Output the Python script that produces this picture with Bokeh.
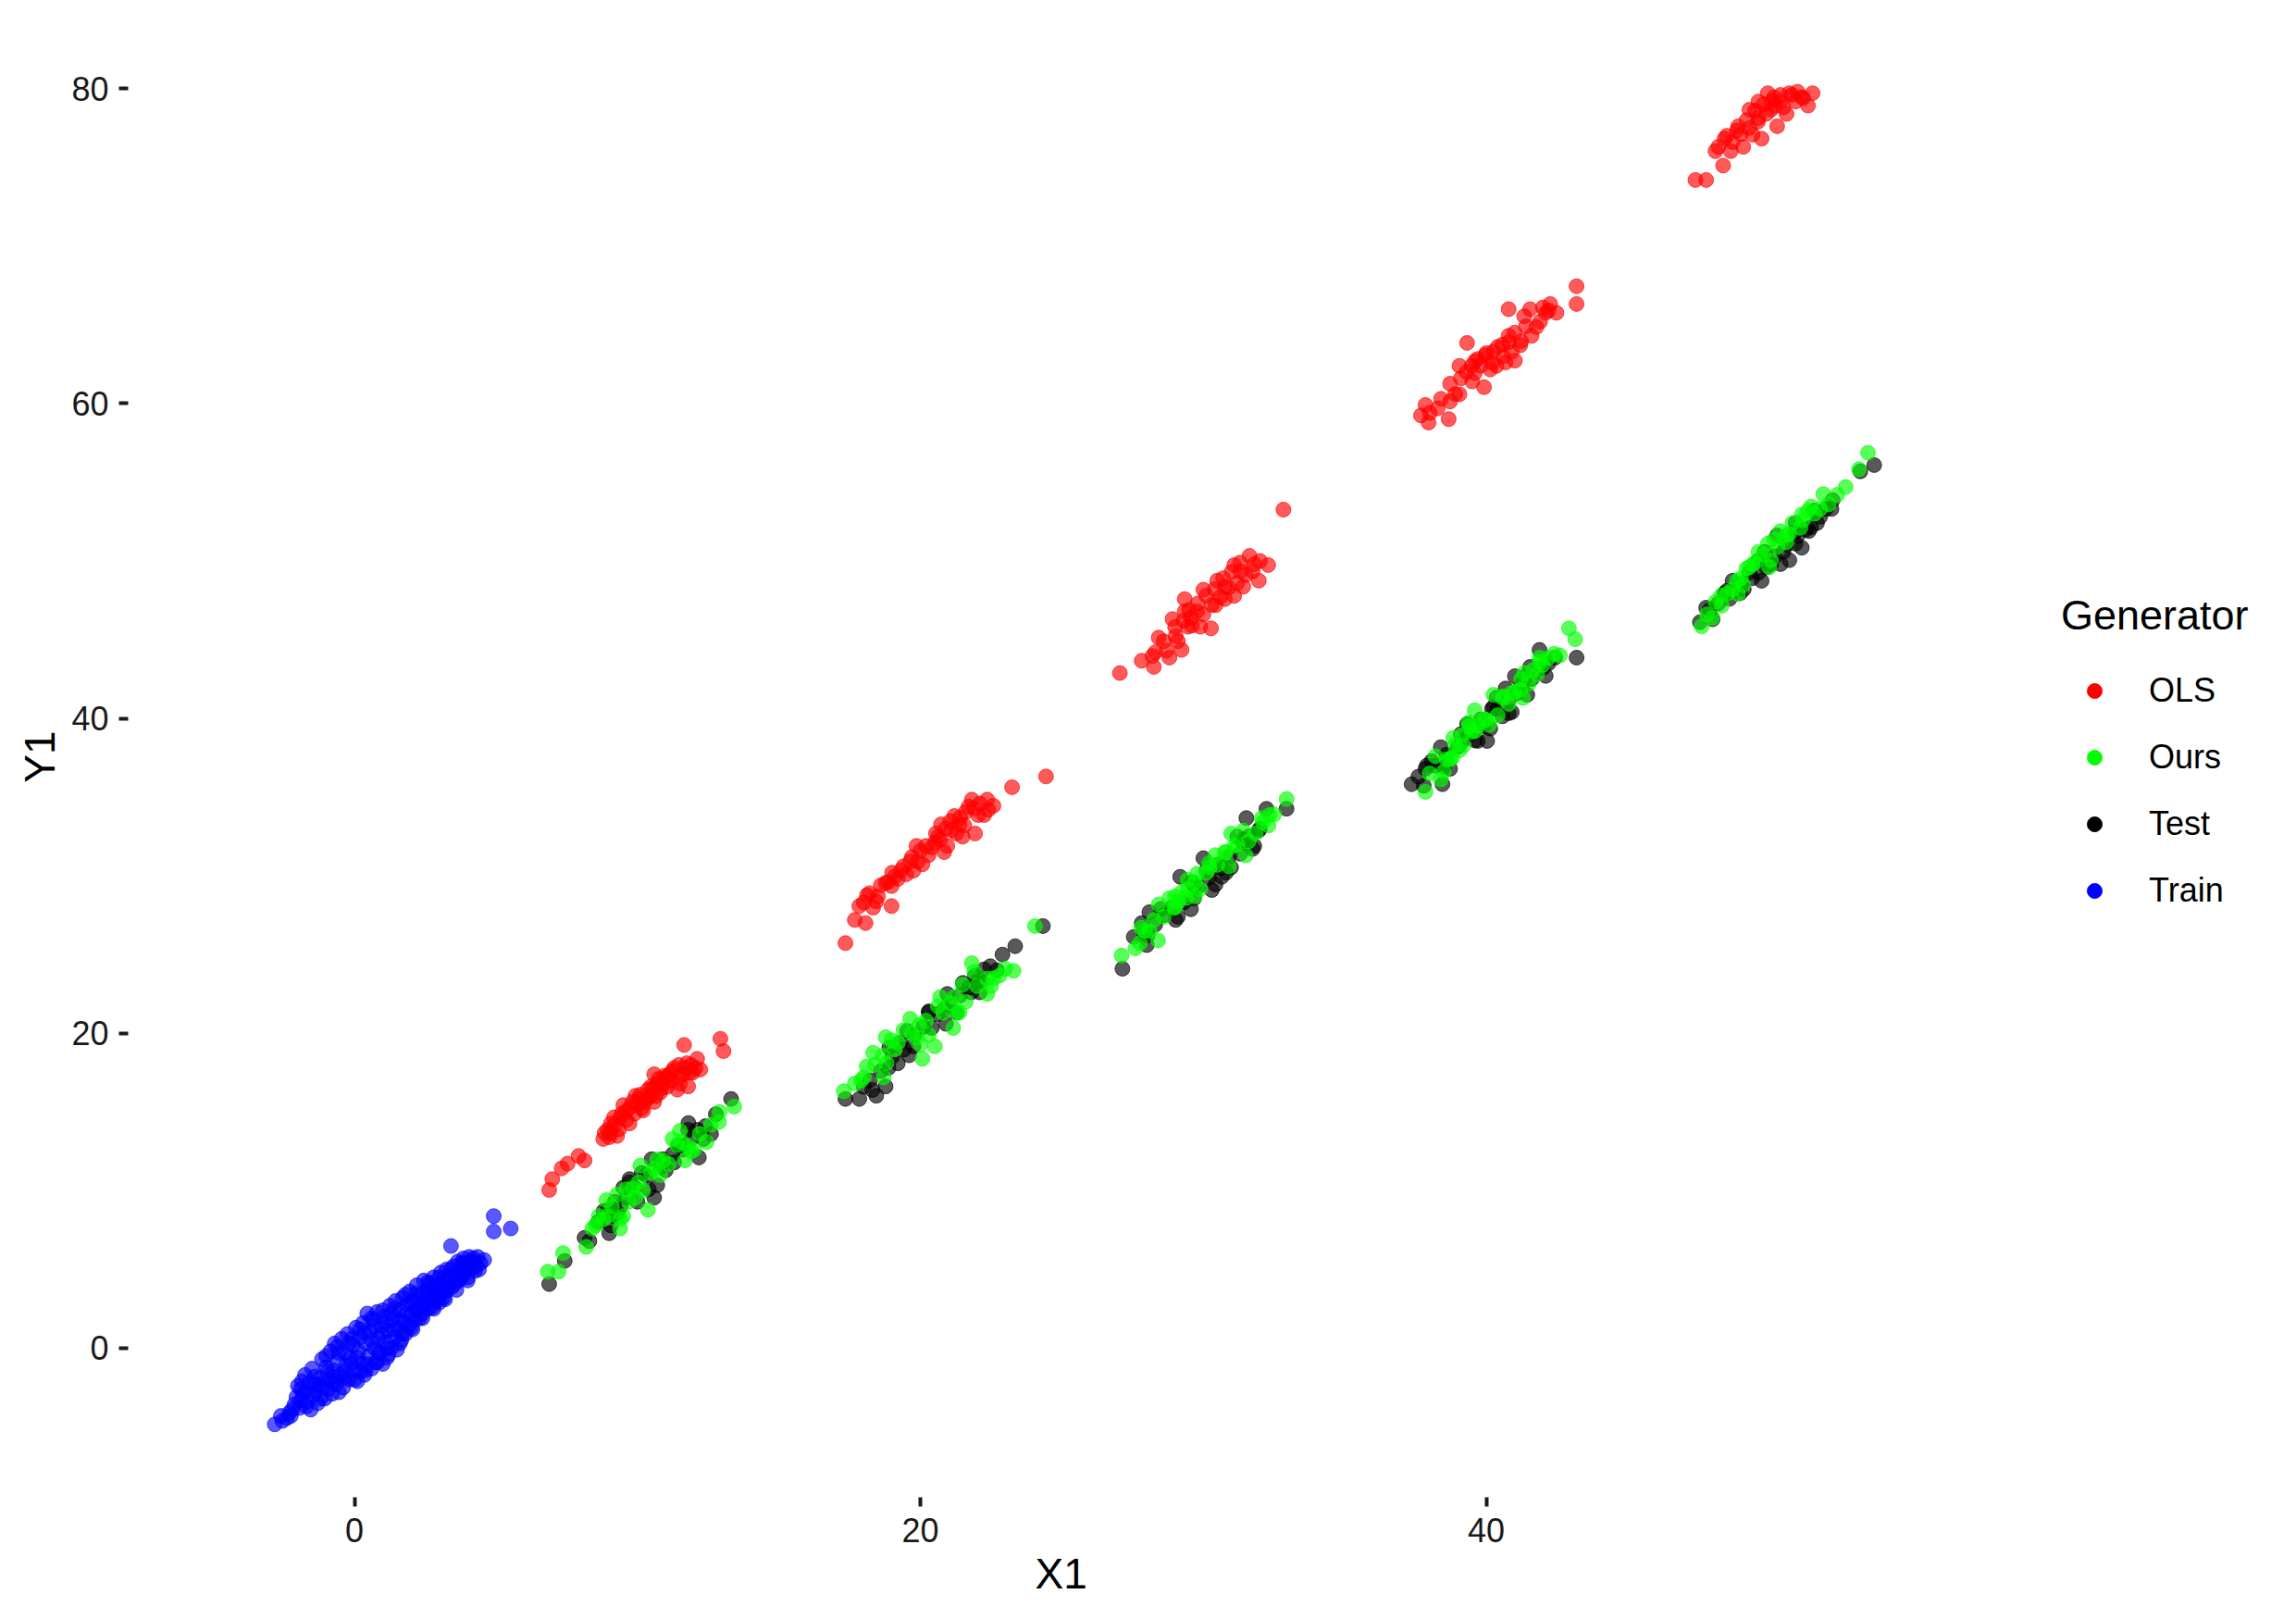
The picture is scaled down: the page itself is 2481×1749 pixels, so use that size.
from bokeh.plotting import figure
from bokeh.models import Legend, LegendItem, Range1d, Title
from bokeh.embed import file_html
from bokeh.resources import INLINE

# ---------------- data ----------------
generators = ["OLS", "Ours", "Test", "Train"]
x_ticks = [0, 20, 40]
y_ticks = [0, 20, 40, 60, 80]

train_x = [-2.82, -2.55, -2.39, -2.2, -2.12, -2.05, -2.0, -1.95, -1.8, -1.75, -1.7, -1.6, -1.55, -1.5,
           -1.35, -1.3, -1.2, -1.15, -1.1, -1.05, -1.0, -0.9, -0.85, -0.8, -0.75, -0.7, -0.65, -0.6,
           -0.5, -0.45, -0.4, -0.35, -0.3, -0.25, -0.2, -0.15, -0.05, 0.0, 0.05, 0.1, 0.15, 0.2, 0.25, 0.3,
           0.35, 0.4, 0.45, 0.5, 0.55, 0.6, 0.65, 0.7, 0.75, 0.8, 0.85, 0.9, 0.95, 1.0, 1.05, 1.1,
           1.15, 1.2, 1.25, 1.3, 1.35, 1.4, 1.45, 1.5, 1.55, 1.6, 1.65, 1.7, 1.75, 1.8, 1.85, 1.9,
           1.95, 2.0, 2.05, 2.1, 2.15, 2.2, 2.25, 2.3, 2.35, 2.4, 2.45, 2.5, 2.55, 2.6, 2.65, 2.7,
           2.75, 2.8, 2.85, 2.9, 2.95, 3.0, 3.05, 3.1, 3.15, 3.2, 3.25, 3.3, 3.35, 3.41, 3.45, 3.5,
           3.55, 3.6, 3.65, 3.7, 3.75, 3.8, 3.85, 3.9, 3.95, 4.0, 4.05, 4.1, 4.2, 4.26, 4.35, 4.45, 4.58,
           4.92, 4.92, 5.52,
           -2.3, -1.9, -1.85, -1.65, -1.45, -1.4, -1.25, -0.95, -0.95, -0.7, -0.55, -0.55, -0.35, -0.1,
           -0.1, 0.1, 0.2, 0.35, 0.45, 0.6, 0.7, 0.85, 0.95, 1.1, 1.15, 1.3, 1.4, 1.6, 1.7, 1.85,
           2.0, 2.15, 2.3, 2.45, 2.6, 2.75, 2.9, 3.05, 3.2, 3.4, 3.55, 3.75, 3.9, 4.1, 4.3,
           -2.6, -2.25, -1.9, -1.7, -1.4, -1.2, -1.0, -0.8, -0.6, -0.4, -0.2, 0.0, 0.2, 0.4, 0.6, 0.8,
           1.0, 1.2, 1.4, 1.6, 1.8, 2.0, 2.2, 2.4, 2.6, 2.8, 3.0, 3.2, 3.4, 3.6, 3.8, 4.0, 4.2, 4.4]
train_y = [-4.84, -4.62, -4.45, -3.9, -3.57, -3.1, -2.4, -3.8, -2.9, -1.7, -3.4, -2.2, -3.9, -1.3,
           -2.7, -3.5, -1.9, -0.7, -2.5, -3.2, -1.2, -2.0, -0.2, -2.9, -1.4, 0.3, -2.3, -0.8,
           -1.7, 0.6, -2.5, -0.3, -1.1, 0.9, -2.0, -0.6, 0.2, -1.4, 1.3, -2.1, -0.2, 0.7, -1.0, 1.6,
           -1.7, 0.3, 2.2, -0.5, 1.0, -1.3, 1.8, 0.0, -0.9, 2.3, 0.6, -0.3, 1.4, -1.0, 2.0, 0.4,
           -0.6, 1.1, 2.7, 0.0, 1.8, 0.7, 3.0, -0.1, 1.3, 2.4, 0.5, 3.2, 1.7, 0.9, 2.8, 1.4,
           3.6, 2.1, 1.2, 3.0, 1.8, 4.0, 2.5, 1.9, 3.4, 2.2, 4.3, 2.8, 3.7, 2.5, 4.1, 3.2,
           2.6, 4.5, 3.5, 3.0, 4.0, 2.9, 4.8, 3.6, 3.2, 4.3, 5.0, 3.7, 4.6, 6.49, 3.9, 5.2,
           4.1, 4.8, 5.5, 4.3, 5.0, 4.6, 5.7, 4.9, 5.3, 4.5, 5.8, 5.0, 5.5, 4.9, 5.8, 5.4, 5.6,
           8.39, 7.41, 7.60,
           -4.1, -3.3, -2.1, -2.7, -3.0, -1.8, -2.3, -1.5, -2.6, -1.8, -2.8, -0.3, -1.5, -1.0,
           0.6, -0.6, -1.5, 1.0, -1.0, 0.5, 1.4, -0.3, 0.9, 1.6, 0.0, 2.2, 1.2, 1.8, 0.9, 2.2,
           2.9, 2.4, 3.1, 2.6, 3.4, 3.9, 3.4, 4.1, 3.6, 4.2, 4.7, 4.4, 5.4, 5.5, 5.2,
           -4.3, -4.3, -2.6, -3.7, -2.3, -3.2, -0.5, -2.2, 0.1, -1.9, 0.3, -2.0, 1.2, -1.4, 1.9, -0.9,
           2.4, -0.4, 2.5, 0.3, 3.4, 1.3, 3.5, 1.9, 4.2, 2.5, 4.5, 3.1, 5.0, 3.7, 5.4, 4.3, 5.7, 5.0]

test_x = [6.88, 7.43, 8.13, 9.06, 8.95, 9.28, 9.72, 10.15, 10.70, 10.81, 10.59, 11.24, 11.46, 11.79,
          12.11, 12.33, 12.17, 12.77, 13.31, 9.06, 9.61, 9.72,
          8.6, 8.8, 9.2, 9.4, 9.9, 10.3, 10.4, 10.9, 11.0, 11.6, 11.9, 12.4,
          9.0, 9.5, 10.0, 10.5, 11.3, 11.8, 12.6, 8.3,
          17.35, 17.84, 18.44, 18.77, 18.22, 19.20, 19.53, 19.75, 20.29, 20.40, 20.95, 21.27, 21.71,
          21.93, 22.25, 22.47, 22.15, 23.35, 24.33, 19.42, 20.84, 18.87,
          18.0, 18.6, 19.0, 19.3, 19.8, 20.1, 20.6, 21.0, 21.4, 21.8, 22.0, 22.7,
          18.3, 18.9, 19.6, 20.3, 20.9, 21.5, 22.1, 22.9,
          27.14, 27.54, 27.82, 28.09, 28.03, 29.02, 29.18, 29.56, 29.67, 30.00, 30.11, 30.43, 30.65,
          30.98, 31.41, 31.52, 31.74, 31.96, 32.23, 32.94, 30.54, 29.67, 31.20,
          27.9, 28.3, 28.6, 28.9, 29.3, 29.8, 30.2, 30.6, 30.9, 31.3, 31.6, 32.0,
          28.0, 28.5, 29.1, 29.6, 30.3, 30.8, 31.4, 31.8,
          37.36, 37.79, 37.85, 38.07, 38.39, 38.72, 39.16, 39.32, 39.70, 39.81, 40.03, 40.25, 40.36,
          40.68, 40.79, 41.01, 41.45, 41.55, 41.88, 42.43, 43.19, 40.14, 40.57, 41.23, 38.45,
          37.6, 38.2, 38.6, 39.0, 39.4, 39.9, 40.4, 40.8, 41.1, 41.6, 42.0, 42.2,
          37.9, 38.5, 39.1, 39.6, 40.2, 40.9, 41.4, 42.1,
          47.55, 47.77, 48.42, 48.70, 48.97, 49.30, 49.73, 49.84, 50.06, 50.28, 50.50, 50.71, 50.93,
          51.15, 51.48, 51.59, 51.69, 52.24, 53.22, 53.71, 49.62, 50.93,
          47.9, 48.2, 48.6, 49.0, 49.4, 49.9, 50.2, 50.6, 51.0, 51.3, 51.8, 52.0,
          48.0, 48.5, 49.1, 49.6, 50.4, 50.9, 51.4, 52.2]
test_y = [4.07, 5.54, 7.01, 7.80, 8.78, 8.58, 10.74, 11.13, 10.35, 11.52, 9.56, 12.31, 12.89, 13.87,
          13.87, 13.29, 12.11, 14.86, 15.83, 8.39, 9.56, 10.54,
          8.0, 8.7, 9.3, 9.0, 10.2, 11.0, 10.1, 12.0, 11.3, 12.6, 13.3, 14.1,
          7.3, 10.2, 9.3, 12.0, 11.8, 14.3, 13.6, 6.8,
          15.83, 15.83, 16.03, 16.62, 17.01, 18.09, 20.15, 19.17, 21.32, 20.34, 22.50, 21.32, 22.89,
          23.67, 24.06, 24.26, 23.28, 25.53, 26.81, 18.97, 21.52, 17.80,
          16.6, 17.6, 18.5, 19.4, 19.9, 20.4, 21.2, 21.8, 22.4, 22.6, 23.3, 24.0,
          16.4, 19.1, 18.6, 21.4, 20.6, 23.2, 22.6, 25.0,
          24.10, 26.12, 27.00, 27.69, 26.22, 27.20, 29.94, 27.88, 29.35, 31.12, 30.34, 29.45, 29.94,
          30.53, 32.10, 33.67, 31.71, 32.88, 34.26, 34.26, 30.73, 28.57, 32.49,
          26.4, 26.9, 27.5, 28.0, 28.3, 29.3, 29.9, 30.5, 31.2, 31.4, 32.5, 33.0,
          25.6, 27.9, 27.4, 29.6, 29.1, 30.2, 32.3, 31.9,
          35.82, 35.72, 36.80, 37.29, 38.17, 36.80, 38.57, 39.64, 38.57, 39.94, 38.57, 40.72, 41.31,
          41.90, 40.33, 42.68, 41.50, 43.27, 44.35, 43.86, 43.86, 39.35, 40.13, 42.09, 35.82,
          36.3, 37.0, 37.7, 38.2, 39.0, 39.5, 40.6, 41.2, 41.6, 42.5, 43.2, 43.5,
          37.0, 36.9, 39.0, 38.6, 40.6, 40.4, 42.7, 42.7,
          46.11, 47.03, 47.95, 48.74, 47.95, 49.26, 48.74, 50.58, 49.79, 51.62, 50.58, 50.05, 51.10,
          50.84, 52.15, 53.20, 52.41, 53.86, 55.69, 56.09, 49.26, 52.41,
          46.9, 47.3, 47.6, 48.5, 48.9, 49.6, 50.3, 51.0, 51.6, 52.0, 52.8, 53.3,
          46.3, 48.1, 48.2, 50.0, 49.8, 51.8, 51.9, 53.3]

ours_x = [6.83, 7.21, 7.37, 8.19, 8.52, 8.95, 9.50, 9.28, 9.82, 10.37, 10.04, 10.48, 10.91, 11.24,
          11.57, 11.68, 11.90, 12.44, 12.88, 13.42, 9.93, 9.39, 8.63,
          8.4, 8.8, 9.1, 9.6, 9.7, 10.2, 10.6, 10.7, 11.1, 11.4, 11.8, 12.2, 12.6,
          8.9, 9.4, 10.1, 10.8, 11.5, 12.0, 12.9,
          17.29, 17.68, 18.00, 18.33, 18.66, 18.98, 19.09, 19.64, 19.86, 20.07, 19.96, 20.62, 21.06,
          21.38, 21.49, 21.82, 22.36, 22.36, 22.80, 23.29, 24.05, 18.77, 20.51, 21.16,
          17.9, 18.4, 18.8, 19.2, 19.7, 20.2, 20.3, 20.8, 21.2, 21.6, 22.0, 22.6, 23.0,
          18.1, 18.7, 19.4, 20.0, 20.7, 21.3, 21.9, 22.5,
          27.11, 27.76, 27.93, 28.42, 28.25, 28.80, 28.96, 29.23, 29.45, 29.89, 29.78, 30.22, 30.43,
          30.76, 31.09, 30.98, 31.41, 31.85, 32.07, 32.34, 32.94, 29.12, 29.45,
          27.6, 28.1, 28.6, 29.0, 29.4, 29.7, 30.1, 30.5, 30.8, 31.2, 31.6, 32.1, 32.5,
          27.8, 28.4, 29.0, 29.7, 30.2, 30.9, 31.5, 32.3,
          37.85, 38.39, 38.50, 38.83, 39.05, 39.16, 39.48, 39.70, 39.59, 39.92, 40.25, 40.57, 40.79,
          41.01, 41.23, 41.34, 41.66, 41.88, 42.21, 42.92, 43.14, 38.72, 39.38,
          38.0, 38.6, 39.2, 39.6, 40.0, 40.4, 40.9, 41.2, 41.5, 41.8, 42.0, 42.4, 38.9,
          38.2, 38.8, 39.4, 40.1, 40.6, 41.3, 41.9, 42.6,
          47.61, 47.99, 48.32, 48.53, 48.86, 49.19, 49.41, 49.62, 49.95, 50.17, 50.39, 50.61, 50.82,
          51.15, 51.37, 51.48, 51.91, 53.17, 53.49, 49.08, 50.06,
          47.8, 48.1, 48.7, 49.0, 49.3, 49.8, 50.3, 50.7, 51.1, 51.6, 52.1, 52.4,
          48.3, 48.9, 49.5, 50.0, 50.6, 51.2, 51.8, 52.7]
ours_y = [4.86, 4.86, 6.04, 6.43, 7.80, 8.39, 8.39, 9.76, 10.15, 8.78, 10.54, 11.13, 11.92, 13.29,
          13.09, 11.92, 12.50, 13.09, 14.36, 15.34, 9.56, 7.60, 8.39,
          7.6, 8.2, 9.0, 10.1, 9.3, 10.0, 11.4, 12.0, 11.7, 12.9, 12.8, 13.6, 14.2,
          9.4, 8.2, 11.6, 11.0, 13.8, 12.6, 15.0,
          16.32, 16.81, 17.21, 18.77, 18.58, 19.56, 18.97, 20.93, 19.75, 18.38, 20.54, 21.71, 21.91,
          21.32, 23.08, 24.46, 23.47, 22.50, 23.67, 23.97, 26.81, 19.75, 19.17, 20.34,
          17.0, 18.0, 18.1, 19.4, 20.0, 20.8, 19.9, 21.3, 22.3, 22.0, 23.0, 23.5, 24.1,
          17.9, 17.2, 20.2, 19.3, 22.3, 21.3, 23.9, 23.0,
          24.94, 25.73, 26.51, 28.18, 27.20, 28.57, 27.98, 28.96, 29.16, 29.16, 30.14, 30.53, 31.32,
          31.51, 31.90, 32.69, 32.88, 32.69, 33.67, 33.86, 34.88, 28.37, 29.75,
          25.4, 26.5, 27.4, 28.7, 28.6, 29.6, 30.2, 30.7, 31.5, 32.0, 32.2, 33.4, 33.9,
          26.7, 25.9, 28.0, 28.7, 30.8, 30.6, 31.3, 33.2,
          35.33, 36.12, 36.61, 38.76, 37.98, 38.96, 39.15, 39.55, 40.52, 39.94, 41.50, 41.31, 40.92,
          41.70, 42.49, 42.88, 43.07, 43.86, 43.86, 45.72, 45.03, 37.39, 39.74,
          36.5, 37.4, 38.3, 39.2, 39.9, 40.2, 41.6, 41.8, 42.2, 42.8, 43.4, 44.1, 38.3,
          37.6, 37.5, 39.5, 39.6, 41.4, 41.3, 43.6, 44.0,
          45.85, 46.38, 47.16, 47.95, 48.74, 49.52, 49.79, 50.58, 51.10, 51.36, 51.89, 51.62, 52.41,
          52.94, 53.20, 53.46, 54.25, 55.83, 56.87, 48.48, 50.05,
          46.6, 47.4, 48.2, 48.9, 49.6, 50.4, 50.9, 51.7, 52.1, 53.0, 53.6, 54.2,
          47.8, 47.9, 49.9, 49.6, 51.2, 52.6, 53.3, 54.7]

ols_x = [6.88, 6.99, 7.32, 7.53, 7.92, 8.13, 8.79, 8.95, 9.28, 9.17, 9.50, 9.72, 9.93, 10.15, 10.37,
         10.59, 10.59, 10.80, 11.02, 11.24, 11.41, 11.46, 11.79, 11.84, 12.11, 12.22, 11.65, 12.93,
         13.04, 9.06, 9.39, 9.61, 9.82, 10.04, 10.26, 10.48, 10.70, 10.91, 11.13, 11.46, 11.68, 11.90,
         8.84, 9.06,
         9.0, 9.2, 9.35, 9.45, 9.6, 9.75, 9.9, 10.0, 10.1, 10.2, 10.35, 10.45, 10.55, 10.65, 10.75,
         10.85, 10.95, 11.05, 11.2, 11.3, 11.5, 11.6, 11.75, 11.95, 12.05,
         17.35, 17.68, 18.06, 17.84, 18.11, 18.44, 18.98, 18.77, 19.09, 19.31, 19.64, 19.86, 20.07,
         20.29, 20.51, 20.84, 20.62, 20.73, 21.06, 21.27, 21.38, 21.60, 21.82, 21.93, 22.04, 22.36,
         22.58, 22.25, 23.24, 24.44, 19.75, 18.98, 18.33, 20.95, 21.49,
         18.0, 18.2, 18.5, 18.6, 18.85, 19.0, 19.2, 19.4, 19.5, 19.7, 19.9, 20.0, 20.2, 20.4, 20.55,
         20.7, 20.9, 21.1, 21.2, 21.4, 21.55, 21.7, 21.9, 22.1, 22.4,
         27.05, 27.82, 28.20, 28.25, 28.42, 28.80, 28.91, 29.23, 29.02, 29.34, 29.45, 29.78, 30.00,
         30.27, 30.49, 30.76, 31.09, 31.09, 31.41, 31.63, 31.96, 32.29, 32.83, 29.34, 30.43, 30.76,
         29.89, 31.31, 31.74, 29.56,
         28.3, 28.6, 28.7, 29.0, 29.1, 29.3, 29.5, 29.6, 29.8, 30.0, 30.1, 30.3, 30.4, 30.6, 30.7,
         30.9, 31.0, 31.2, 31.3, 31.5, 31.8, 32.0,
         37.69, 37.96, 37.85, 38.28, 38.67, 38.72, 38.72, 39.05, 39.05, 39.32, 39.59, 39.70, 39.92,
         39.97, 40.25, 40.36, 40.57, 40.79, 40.90, 41.01, 40.79, 41.23, 41.34, 41.55, 41.77, 42.10,
         42.26, 42.48, 43.19, 43.19, 39.48, 40.14, 40.68,
         38.0, 38.4, 38.9, 39.1, 39.3, 39.5, 39.6, 39.8, 40.0, 40.2, 40.4, 40.6, 40.8, 41.0, 41.2,
         41.4, 41.6, 41.9, 42.2, 42.0,
         47.39, 47.77, 48.10, 48.37, 48.42, 48.64, 48.86, 49.08, 49.30, 49.41, 49.62, 49.73, 49.95,
         50.06, 50.28, 50.39, 50.61, 50.71, 50.93, 51.15, 51.37, 51.53, 49.62, 50.17,
         48.2, 48.5, 48.7, 48.9, 49.0, 49.2, 49.3, 49.5, 49.6, 49.8, 49.9, 50.1, 50.2, 50.4, 50.5,
         50.8, 51.0, 51.2]
ols_y = [10.05, 10.74, 11.42, 11.72, 12.21, 11.92, 13.29, 13.87, 13.48, 14.66, 15.44, 14.27, 16.03,
         15.24, 16.42, 15.64, 17.40, 16.23, 17.21, 17.60, 16.42, 17.99, 16.62, 17.50, 18.38, 17.70,
         19.26, 19.65, 18.87, 14.27, 14.66, 15.05, 15.64, 15.83, 15.64, 16.62, 16.81, 16.81, 17.40,
         17.21, 17.79, 17.99, 13.68, 13.68,
         13.4, 14.2, 13.9, 14.9, 14.5, 15.3, 14.9, 15.5, 16.1, 15.1, 15.9, 16.0, 16.5, 16.0, 17.1,
         16.5, 17.3, 16.6, 17.0, 17.8, 16.8, 17.4, 18.1, 17.5, 17.8,
         25.73, 27.20, 27.00, 28.08, 28.77, 28.38, 28.08, 29.55, 29.94, 30.33, 30.92, 31.90, 30.73,
         31.31, 32.10, 31.51, 32.49, 33.27, 33.47, 32.69, 33.27, 34.06, 34.84, 32.69, 33.86, 34.84,
         34.45, 33.86, 35.63, 36.31, 30.33, 29.35, 27.98, 31.90, 32.49,
         28.3, 28.9, 28.7, 29.4, 29.6, 30.2, 29.8, 30.6, 30.1, 31.2, 30.9, 31.6, 31.9, 31.8, 32.7,
         32.3, 33.0, 32.9, 33.8, 33.7, 33.2, 34.4, 34.3, 34.6, 34.2,
         42.88, 43.66, 43.96, 43.27, 45.13, 43.86, 46.31, 44.35, 45.23, 47.58, 45.82, 46.80, 48.17,
         45.72, 48.75, 47.58, 47.78, 49.74, 48.37, 50.32, 48.75, 49.74, 53.26, 46.80, 47.19, 48.37,
         45.82, 49.34, 49.34, 46.40,
         44.2, 44.9, 44.3, 45.8, 44.9, 46.2, 46.9, 45.9, 47.3, 46.6, 47.8, 47.2, 48.2, 47.7, 48.9,
         48.3, 49.3, 48.6, 49.9, 49.1, 49.8, 50.0,
         59.24, 58.79, 59.91, 59.69, 59.01, 60.13, 61.26, 62.39, 60.59, 63.85, 61.93, 62.83, 61.04,
         63.06, 63.29, 62.39, 63.74, 64.30, 63.29, 62.72, 65.99, 63.96, 65.54, 65.99, 64.86, 65.76,
         66.32, 65.76, 67.45, 66.32, 62.39, 62.16, 62.61,
         59.4, 60.3, 60.6, 61.6, 62.0, 61.4, 62.7, 62.4, 63.2, 62.6, 63.6, 63.0, 63.9, 64.5, 63.7,
         64.9, 64.3, 65.2, 65.9, 66.1,
         74.20, 74.20, 76.03, 75.11, 76.82, 76.03, 77.34, 76.30, 78.66, 77.08, 78.13, 76.82, 79.71,
         78.66, 77.61, 79.18, 78.39, 79.71, 79.18, 79.45, 78.92, 79.71, 79.18, 79.45,
         76.3, 77.0, 76.6, 77.6, 77.1, 78.0, 77.5, 78.6, 77.9, 79.0, 78.4, 79.2, 78.9, 79.6, 78.8,
         79.6, 79.8, 79.4]

colors = {"OLS": "#FF0000", "Ours": "#00FF00", "Test": "#000000", "Train": "#0000FF"}
series = {"Train": (train_x, train_y), "Test": (test_x, test_y),
          "Ours": (ours_x, ours_y), "OLS": (ols_x, ols_y)}

FONT = "Liberation Sans"

# invisible panel border; the frame extends under the legend area on the right
p = figure(width=2475, height=1745, output_backend="svg", toolbar_location=None,
           x_range=Range1d(-8.0, 68.11), y_range=Range1d(-9.47, 84.6),
           min_border_left=138, min_border_right=10, min_border_top=17, min_border_bottom=128)
p.outline_line_color = None
p.xgrid.visible = False
p.ygrid.visible = False
p.background_fill_color = "white"

for name in ["Train", "Test", "Ours", "OLS"]:
    xs, ys = series[name]
    p.scatter(x=xs, y=ys, size=16, fill_color=colors[name], line_color=colors[name],
              fill_alpha=0.65, line_alpha=0.65)

# axes
p.xaxis.ticker = x_ticks
p.yaxis.ticker = y_ticks
p.yaxis.axis_label = "Y1"
for ax in (p.xaxis, p.yaxis):
    ax.axis_line_color = None
    ax.major_tick_out = 10
    ax.major_tick_in = 0
    ax.minor_tick_out = 0
    ax.minor_tick_in = 0
    ax.major_tick_line_color = "#1a1a1a"
    ax.major_tick_line_width = 4
    ax.major_label_text_font = FONT
    ax.major_label_text_font_size = "36px"
    ax.major_label_text_color = "#1a1a1a"
    ax.axis_label_text_font = FONT
    ax.axis_label_text_font_size = "46px"
    ax.axis_label_text_font_style = "normal"
    ax.axis_label_text_color = "black"
p.yaxis.major_label_standoff = 11
p.xaxis.major_label_standoff = 12
p.yaxis.axis_label_standoff = 5

# x-axis title, centred under the data panel (the frame also spans the legend area)
p.add_layout(Title(text="X1", align="left", offset=980, vertical_align="top", standoff=10,
                   text_font=FONT, text_font_size="46px", text_font_style="normal",
                   text_color="black"), "below")

# legend: hidden full-opacity copies give opaque keys
items = []
for name in generators:
    xs, ys = series[name]
    r = p.scatter(x=xs, y=ys, size=15, fill_color=colors[name], line_color=colors[name],
                  visible=False)
    items.append(LegendItem(label=name, renderers=[r]))
legend = Legend(items=items, title="Generator", location=(2089, 634),
                glyph_width=72, glyph_height=40, label_height=40, label_standoff=23,
                spacing=30, padding=20, margin=0, title_standoff=34,
                border_line_color=None, background_fill_alpha=0)
legend.title_text_font = FONT
legend.title_text_font_size = "45px"
legend.title_text_font_style = "normal"
legend.title_text_color = "black"
legend.label_text_font = FONT
legend.label_text_font_size = "36px"
legend.label_text_color = "black"
p.add_layout(legend)

open("out.html", "w").write(file_html(p, INLINE))
